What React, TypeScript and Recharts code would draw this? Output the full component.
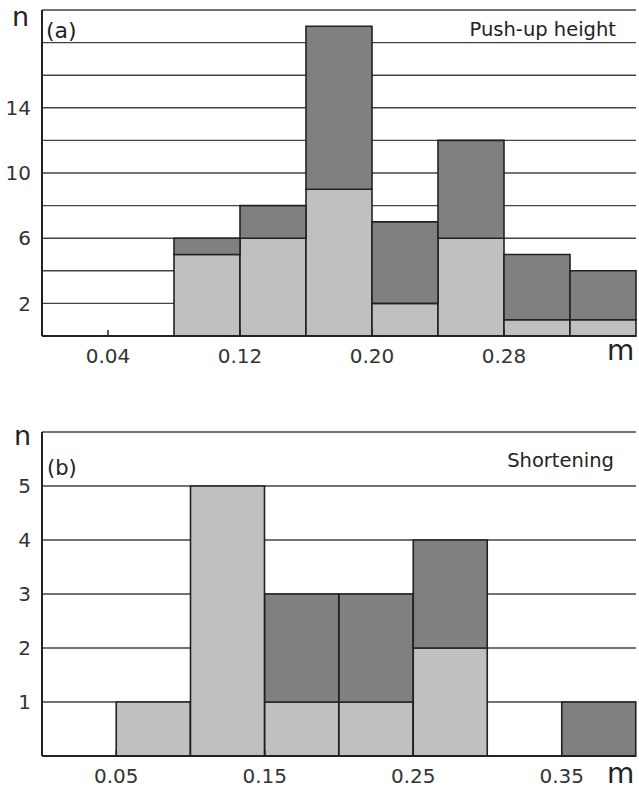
import React from "react";
import { BarChart, Bar, XAxis, YAxis, CartesianGrid } from "recharts";

// (a) push-up height, bins of 0.04 m (centres)
const binsA = [0.02, 0.06, 0.1, 0.14, 0.18, 0.22, 0.26, 0.3, 0.34];
const lightA = [0, 0, 5, 6, 9, 2, 6, 1, 1];
const darkA = [0, 0, 1, 2, 10, 5, 6, 4, 3];
const xTicksA = [0.04, 0.12, 0.2, 0.28];
const yTicksA = [2, 4, 6, 8, 10, 12, 14, 16, 18];
const yLabelsA = [2, 6, 10, 14];

// (b) shortening, bins of 0.05 m (centres)
const binsB = [0.025, 0.075, 0.125, 0.175, 0.225, 0.275, 0.325, 0.375];
const lightB = [0, 1, 5, 1, 1, 2, 0, 0];
const darkB = [0, 0, 0, 2, 2, 2, 0, 1];
const xTicksB = [0.05, 0.15, 0.25, 0.35];
const yTicksB = [1, 2, 3, 4, 5];

const dataA = binsA.map((x, i) => ({ x, light: lightA[i], dark: darkA[i] }));
const dataB = binsB.map((x, i) => ({ x, light: lightB[i], dark: darkB[i] }));

const FONT = "DejaVu Sans";
const tickStyle = { fontSize: 20, fill: "#333", fontFamily: FONT };

interface HistProps {
  data: { x: number; light: number; dark: number }[];
  height: number;
  marginTop: number;
  marginBottom: number;
  axisHeight: number;
  xMax: number;
  xTicks: number[];
  yMax: number;
  yTicks: number[];
  yLabels: number[];
}

function Histogram(p: HistProps) {
  return (
    <BarChart
      width={639}
      height={p.height}
      data={p.data}
      margin={{ top: p.marginTop, right: 3, bottom: p.marginBottom, left: 0 }}
      barCategoryGap={0}
      barGap={0}
    >
      <CartesianGrid vertical={false} stroke="#444" strokeWidth={1.4} />
      <XAxis
        dataKey="x"
        type="number"
        domain={[0, p.xMax]}
        ticks={p.xTicks}
        tickFormatter={(v: number) => v.toFixed(2)}
        tick={tickStyle}
        tickSize={-6}
        tickMargin={19}
        height={p.axisHeight}
        axisLine={{ stroke: "#222", strokeWidth: 2 }}
        tickLine={{ stroke: "#222", strokeWidth: 1.5 }}
        interval={0}
      />
      <XAxis
        xAxisId="top"
        orientation="top"
        dataKey="x"
        type="number"
        domain={[0, p.xMax]}
        height={0}
        tick={false}
        tickLine={false}
        axisLine={{ stroke: "#222", strokeWidth: 2 }}
      />
      <YAxis
        domain={[0, p.yMax]}
        ticks={p.yTicks}
        tickFormatter={(v: number) => (p.yLabels.includes(v) ? String(v) : "")}
        tick={tickStyle}
        tickSize={0}
        tickMargin={11}
        tickLine={false}
        width={42}
        axisLine={{ stroke: "#222", strokeWidth: 2 }}
        interval={0}
      />
      <YAxis
        yAxisId="right"
        orientation="right"
        domain={[0, p.yMax]}
        width={0}
        tick={false}
        tickLine={false}
        axisLine={{ stroke: "#222", strokeWidth: 1.6 }}
      />
      <Bar dataKey="light" stackId="s" fill="#c0c0c0" stroke="#222" strokeWidth={1.6} isAnimationActive={false} />
      <Bar dataKey="dark" stackId="s" fill="#808080" stroke="#222" strokeWidth={1.6} isAnimationActive={false} />
    </BarChart>
  );
}

const txt = { fontFamily: FONT, fill: "#222" };

export default function App() {
  return (
    <div style={{ position: "absolute", left: 0, top: 0, width: 639, height: 789, background: "#fff" }}>
      <div style={{ position: "absolute", left: 0, top: 0 }}>
        <Histogram
          data={dataA}
          height={380}
          marginTop={10}
          marginBottom={4}
          axisHeight={40}
          xMax={0.36}
          xTicks={xTicksA}
          yMax={20}
          yTicks={yTicksA}
          yLabels={yLabelsA}
        />
      </div>
      <div style={{ position: "absolute", left: 0, top: 400 }}>
        <Histogram
          data={dataB}
          height={389}
          marginTop={32}
          marginBottom={5}
          axisHeight={28}
          xMax={0.4}
          xTicks={xTicksB}
          yMax={6}
          yTicks={yTicksB}
          yLabels={yTicksB}
        />
      </div>
      <svg width={639} height={789} style={{ position: "absolute", left: 0, top: 0, pointerEvents: "none" }}>
        <text x={12} y={26} fontSize={27} {...txt}>n</text>
        <text x={46} y={38} fontSize={22} {...txt}>(a)</text>
        <text x={616} y={36} fontSize={19.5} textAnchor="end" {...txt}>Push-up height</text>
        <text x={607} y={360} fontSize={28} {...txt}>m</text>
        <text x={14} y={445} fontSize={27} {...txt}>n</text>
        <text x={47} y={475} fontSize={21} {...txt}>(b)</text>
        <text x={614} y={467} fontSize={19.5} textAnchor="end" {...txt}>Shortening</text>
        <text x={607} y={783} fontSize={28} {...txt}>m</text>
      </svg>
    </div>
  );
}
